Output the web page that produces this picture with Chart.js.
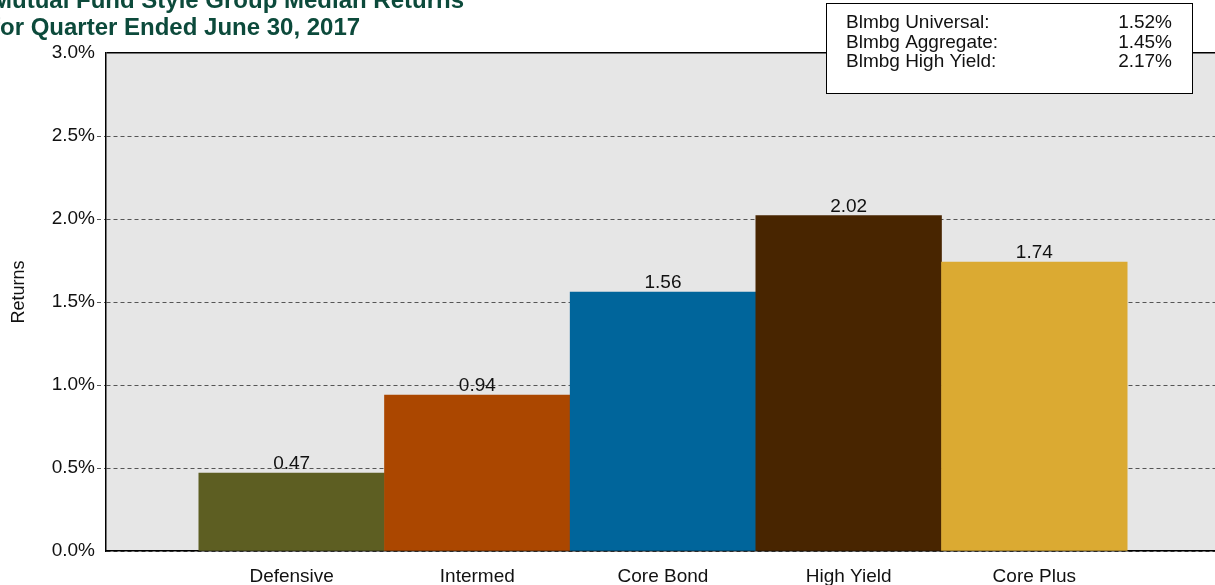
<!DOCTYPE html>
<html><head><meta charset="utf-8">
<script src="https://cdn.jsdelivr.net/npm/chart.js@4.4.1/dist/chart.umd.min.js"></script>
<style>
html,body{margin:0;padding:0;background:#fff;overflow:hidden;width:1215px;height:585px;}
#wrap{position:absolute;left:-10px;top:0;width:1240px;height:585px;}
</style></head><body>
<div id="wrap"><canvas id="c"></canvas></div>
<script>
const categories = ['Defensive', 'Intermed', 'Core Bond', 'High Yield', 'Core Plus'];
const medianReturns = [0.47, 0.94, 1.56, 2.02, 1.74];
const barColors = ['#5d5e22', '#ab4700', '#00659b', '#482500', '#dbaa32'];
const titleLines = ['Mutual Fund Style Group Median Returns', 'for Quarter Ended June 30, 2017'];
const benchmarkNames = ['Blmbg Universal:', 'Blmbg Aggregate:', 'Blmbg High Yield:'];
const benchmarkReturns = [1.52, 1.45, 2.17];
const yMin = 0, yMax = 3, yStep = 0.5;

const FONT = "'Liberation Sans', Arial, sans-serif";

const plotBg = {
  id: 'plotBg',
  beforeDraw(chart) {
    const {ctx, chartArea: a} = chart;
    ctx.save();
    ctx.fillStyle = '#e6e6e6';
    ctx.fillRect(a.left, a.top, a.right - a.left, a.bottom - a.top);
    ctx.restore();
  }
};

const valueLabels = {
  id: 'valueLabels',
  afterDatasetsDraw(chart) {
    const {ctx} = chart;
    const meta = chart.getDatasetMeta(0);
    ctx.save();
    ctx.font = '19px ' + FONT;
    ctx.fillStyle = '#111';
    ctx.textAlign = 'center';
    ctx.textBaseline = 'alphabetic';
    meta.data.forEach((el, i) => {
      ctx.fillText(medianReturns[i].toFixed(2), el.x, el.y - 4);
    });
    ctx.restore();
  }
};

const benchBox = {
  id: 'benchBox',
  afterDraw(chart) {
    const {ctx} = chart;
    const x0 = 836.5, y0 = 3.5, w = 366, h = 90;
    ctx.save();
    ctx.fillStyle = '#fff';
    ctx.fillRect(x0, y0, w, h);
    ctx.strokeStyle = '#000';
    ctx.lineWidth = 1;
    ctx.strokeRect(x0, y0, w, h);
    ctx.font = '19px ' + FONT;
    ctx.fillStyle = '#111';
    ctx.textBaseline = 'alphabetic';
    benchmarkNames.forEach((n, i) => {
      const y = 28 + i * 19.5;
      ctx.textAlign = 'left';
      ctx.fillText(n, 856, y);
      ctx.textAlign = 'right';
      ctx.fillText(benchmarkReturns[i].toFixed(2) + '%', 1182, y);
    });
    ctx.restore();
  }
};

new Chart(document.getElementById('c'), {
  type: 'bar',
  data: {
    datasets: [{
      data: categories.map((c, i) => ({x: i + 1, y: medianReturns[i]})),
      backgroundColor: barColors,
      borderWidth: 0,
      barPercentage: 1,
      categoryPercentage: 1
    }]
  },
  options: {
    responsive: true,
    maintainAspectRatio: false,
    animation: false,
    layout: {padding: {left: 2, right: 10, top: 0, bottom: 0}},
    plugins: {
      legend: {display: false},
      tooltip: {enabled: false},
      title: {
        display: true,
        text: titleLines,
        align: 'start',
        color: '#0c4a3b',
        font: {family: FONT, size: 24, weight: 'bold', lineHeight: 1.1},
        padding: {top: -11.4, bottom: 11.6}
      }
    },
    scales: {
      x: {
        type: 'linear',
        offset: false,
        min: 0,
        max: categories.length + 1,
        afterFit(s) { s.height = 34; },
        grid: {display: false, offset: false},
        border: {display: true, color: '#000', width: 1.5},
        ticks: {
          stepSize: 1,
          autoSkip: false,
          maxRotation: 0,
          padding: 6,
          color: '#111',
          font: {family: FONT, size: 19},
          callback: v => categories[v - 1] || ''
        }
      },
      y: {
        min: yMin,
        max: yMax,
        afterFit(s) { s.width = 114; },
        border: {display: true, color: '#000', width: 1.5,
          dash: c => (c.tick && c.tick.value === yMax) ? [] : [4, 3]},
        grid: {
          color: c => (c.tick && c.tick.value === yMax) ? '#000' : '#555',
          lineWidth: c => (c.tick && c.tick.value === yMax) ? 1.5 : 1,
          tickLength: 9,
          tickColor: c => (c.tick && (c.tick.value === yMax || c.tick.value === yMin)) ? 'rgba(0,0,0,0)' : '#555',
          tickBorderDash: [4, 3]
        },
        ticks: {
          stepSize: yStep,
          padding: 2,
          color: '#111',
          font: {family: FONT, size: 19},
          callback: v => v.toFixed(1) + '%'
        },
        title: {
          display: true,
          text: '    Returns',
          color: '#111',
          font: {family: FONT, size: 18},
          padding: {top: 16, bottom: 0}
        }
      }
    }
  },
  plugins: [plotBg, valueLabels, benchBox]
});
</script>
</body></html>
